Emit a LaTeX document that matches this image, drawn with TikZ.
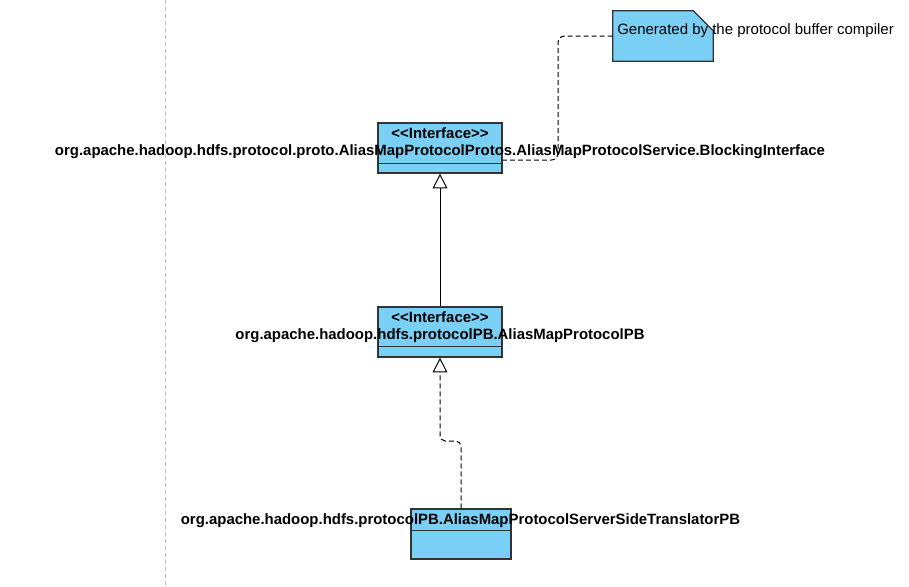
\documentclass[tikz,border=0pt]{standalone}
\usepackage{fontspec}
\setmainfont{Liberation Sans}
\usetikzlibrary{arrows.meta}
\definecolor{umlfill}{RGB}{122,207,245}
\definecolor{umlline}{RGB}{51,51,51}
\definecolor{guide}{RGB}{190,190,190}
\begin{document}
\begin{tikzpicture}[x=0.75pt,y=-0.75pt,
  font=\fontsize{11.25pt}{13pt}\selectfont,
  classbox/.style={draw=umlline, fill=umlfill, line width=0.9pt, inner sep=0pt, minimum height=37.5pt},
  sepline/.style={draw=umlline, line width=0.9pt},
  label/.style={inner sep=0pt, font=\fontsize{11.2pt}{13pt}\selectfont\bfseries},
  gen/.style={line width=0.75pt, -{Triangle[open, length=11pt, width=11pt]}},
  dashline/.style={line width=0.75pt, dash pattern=on 3.75pt off 2.25pt},
]
\useasboundingbox (0,0) rectangle (909,586);
% guide line
\coordinate (gtop) at (165,0);
\coordinate (gbot) at (165,586);
\draw[guide, line width=0.75pt, dash pattern=on 3pt off 2.25pt] (gtop) -- (gbot);

% class boxes
\node[classbox, minimum width=93pt] (c1) at (440,148) {};
\node[classbox, minimum width=93pt] (c2) at (440,332) {};
\node[classbox, minimum width=75pt] (c3) at (461,534) {};
\draw[sepline] ([yshift=7.5pt]c1.south west) -- ([yshift=7.5pt]c1.south east);
\draw[sepline] ([yshift=8.25pt]c2.south west) -- ([yshift=8.25pt]c2.south east);
\draw[sepline] ([yshift=-16.5pt]c3.north west) -- ([yshift=-16.5pt]c3.north east);

% note
\node[inner sep=0pt, minimum width=75pt, minimum height=37.5pt] (n) at (663,36) {};
\filldraw[fill=umlfill, draw=umlline, line width=0.9pt]
  (n.south west) -- (n.north west) -- ([xshift=-15pt]n.north east)
  -- ([yshift=-15pt]n.north east) -- (n.south east) -- cycle;

% texts
\node[label] (s1) at (440,133) {\symbol{60}\symbol{60}Interface\symbol{62}\symbol{62}};
\node[label] (t1) at (440,152) {org.apache.hadoop.hdfs.protocol.proto.AliasMapProtocolProtos.AliasMapProtocolService.BlockingInterface};
\node[label] (s2) at (440,317) {\symbol{60}\symbol{60}Interface\symbol{62}\symbol{62}};
\node[label] (t2) at (440,336) {org.apache.hadoop.hdfs.protocolPB.AliasMapProtocolPB};
\node[label] (t3) at (460.5,521) {org.apache.hadoop.hdfs.protocolPB.AliasMapProtocolServerSideTranslatorPB};
\node[inner sep=0pt, anchor=west, text=black] (nt) at (617,31) {Generated by the protocol buffer compiler};

% connectors
\draw[gen] (c2.north) -- (c1.south);
\draw[gen, dashline, rounded corners=4pt] (c3.north) -- (c3.north |- 0,441) -- (c2.south |- 0,441) -- (c2.south);
\draw[dashline, rounded corners=5pt] (n.west) -- (558,36) -- (558,160) -- (c1.east |- 0,160);
\end{tikzpicture}
\end{document}
